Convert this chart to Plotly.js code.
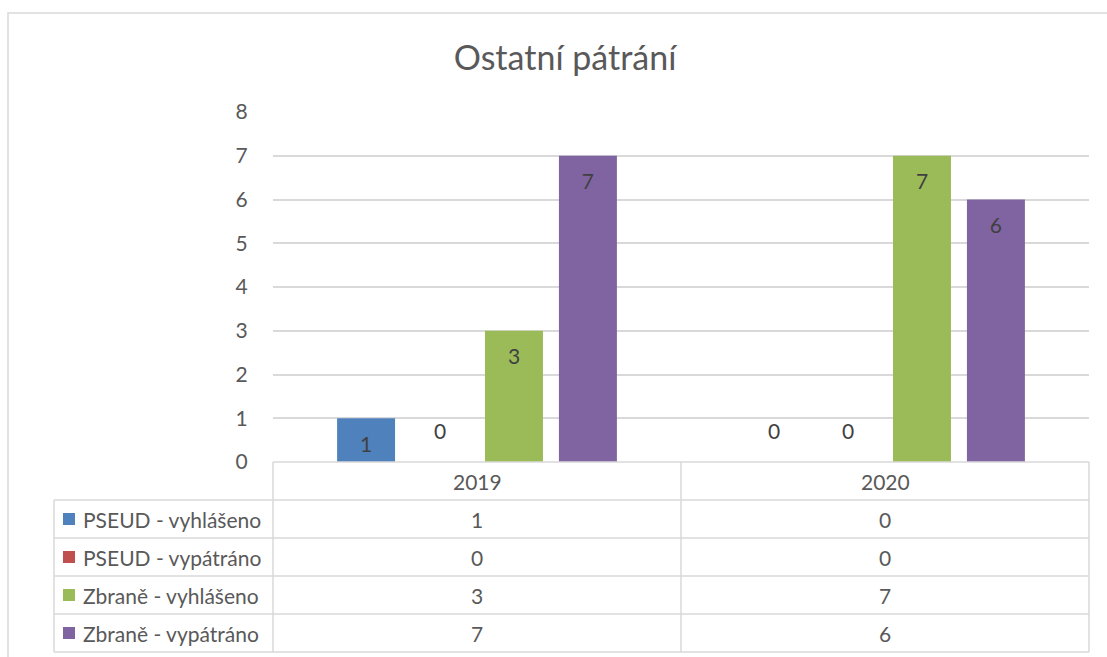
<!DOCTYPE html>
<html>
<head>
<meta charset="utf-8">
<script src="https://cdn.plot.ly/plotly-3.0.1.min.js"></script>
<style>html,body{margin:0;padding:0;background:#fff;}#chart{width:1107px;height:657px;}</style>
</head>
<body>
<div id="chart"></div>
<script>
const categories = ['2019', '2020'];
const seriesNames = ['PSEUD - vyhlášeno', 'PSEUD - vypátráno', 'Zbraně - vyhlášeno', 'Zbraně - vypátráno'];
const pseudVyhlaseno = [1, 0];
const pseudVypatrano = [0, 0];
const zbraneVyhlaseno = [3, 7];
const zbraneVypatrano = [7, 6];
const seriesColors = ['#4f81bd', '#c0504d', '#9bbb59', '#8064a2'];
const titleText = 'Ostatní pátrání';

const seriesValues = [pseudVyhlaseno, pseudVypatrano, zbraneVyhlaseno, zbraneVypatrano];

const W = 1107, H = 657;
const L = 273, R = 1089, T = 112, B = 462;
const px = x => (x - L) / (R - L);
const py = y => (B - y) / (B - T);
const FONT = 'Lato, "Open Sans", sans-serif';
const TXT = '#595959';
const GRID = '#d9d9d9';
const FS = 21;
const BARGAP = 0.275;

const barTraces = seriesValues.map((vals, i) => ({
  type: 'bar',
  name: seriesNames[i],
  x: categories,
  y: vals,
  offsetgroup: String(i),
  marker: {color: seriesColors[i]},
  hoverinfo: 'x+y+name'
}));

// data labels: "inside end" look, zero values shown just above the baseline
const labelTraces = seriesValues.map((vals, i) => ({
  type: 'scatter',
  mode: 'markers+text',
  name: seriesNames[i],
  x: categories,
  y: vals,
  offsetgroup: String(i),
  marker: {size: 27, color: 'rgba(0,0,0,0)'},
  text: vals.map(v => String(v)),
  textposition: vals.map(v => v > 0 ? 'bottom center' : 'top center'),
  textfont: {family: FONT, size: FS, color: '#404040'},
  cliponaxis: false,
  hoverinfo: 'skip',
  showlegend: false
}));

const shapes = [];
const annotations = [];
const line = (x0, y0, x1, y1) => shapes.push({type: 'line', xref: 'paper', yref: 'paper',
  x0: px(x0), y0: py(y0), x1: px(x1), y1: py(y1), line: {color: GRID, width: 1.5}});

// outer chart border
shapes.push({type: 'rect', xref: 'paper', yref: 'paper', x0: px(8), y0: py(13), x1: px(1130), y1: py(680),
  line: {color: GRID, width: 1.5}, fillcolor: 'rgba(0,0,0,0)', layer: 'below'});

// data table
const colX = [L];
const colW = (R - L) / categories.length;
categories.forEach((c, i) => colX.push(L + colW * (i + 1)));
const rowH = 38;
const nRows = seriesNames.length;
const tableBottom = B + rowH * (nRows + 1);
line(L, B, R, B);
for (let r = 1; r <= nRows + 1; r++) line(54, B + rowH * r, R, B + rowH * r);
line(54, B + rowH, 54, tableBottom);
colX.forEach(x => line(x, B, x, tableBottom));

categories.forEach((c, i) => {
  const cx = L + colW * (i + 0.5);
  annotations.push({xref: 'paper', yref: 'paper', x: px(cx), y: py(B + rowH / 2), text: c,
    showarrow: false, xanchor: 'center', yanchor: 'middle', font: {family: FONT, size: FS, color: TXT}});
  seriesValues.forEach((vals, r) => {
    annotations.push({xref: 'paper', yref: 'paper', x: px(cx), y: py(B + rowH * (r + 1.5)), text: String(vals[i]),
      showarrow: false, xanchor: 'center', yanchor: 'middle', font: {family: FONT, size: FS, color: TXT}});
  });
});
seriesNames.forEach((n, r) => {
  const cy = B + rowH * (r + 1.5);
  shapes.push({type: 'rect', xref: 'paper', yref: 'paper', x0: px(63), x1: px(75), y0: py(cy - 6), y1: py(cy + 6),
    line: {width: 0}, fillcolor: seriesColors[r]});
  annotations.push({xref: 'paper', yref: 'paper', x: px(81), y: py(cy), text: n,
    showarrow: false, xanchor: 'left', yanchor: 'middle', font: {family: FONT, size: FS, color: TXT}});
});

const layout = {
  width: W, height: H,
  margin: {l: L, r: W - R, t: T, b: H - B, pad: 0},
  paper_bgcolor: '#ffffff', plot_bgcolor: '#ffffff',
  title: {text: titleText, x: 565 / W, xref: 'container', xanchor: 'center', y: 1 - 58 / H, yanchor: 'middle',
    font: {family: FONT, size: 34, color: TXT}},
  showlegend: false,
  barmode: 'group',
  bargap: BARGAP,
  bargroupgap: 0.216,
  scattermode: 'group',
  scattergap: BARGAP,
  xaxis: {type: 'category', showticklabels: false, showgrid: false, zeroline: false, showline: false, ticks: ''},
  yaxis: {range: [0, 8], dtick: 1, tick0: 0, showgrid: true, gridcolor: GRID, gridwidth: 1.5, zeroline: false,
    showline: false, ticks: 'outside', ticklen: 20, tickcolor: 'rgba(0,0,0,0)',
    tickfont: {family: FONT, size: FS, color: TXT}},
  shapes: shapes,
  annotations: annotations,
  font: {family: FONT, color: TXT}
};

Plotly.newPlot('chart', barTraces.concat(labelTraces), layout, {displayModeBar: false, responsive: false});
</script>
</body>
</html>
